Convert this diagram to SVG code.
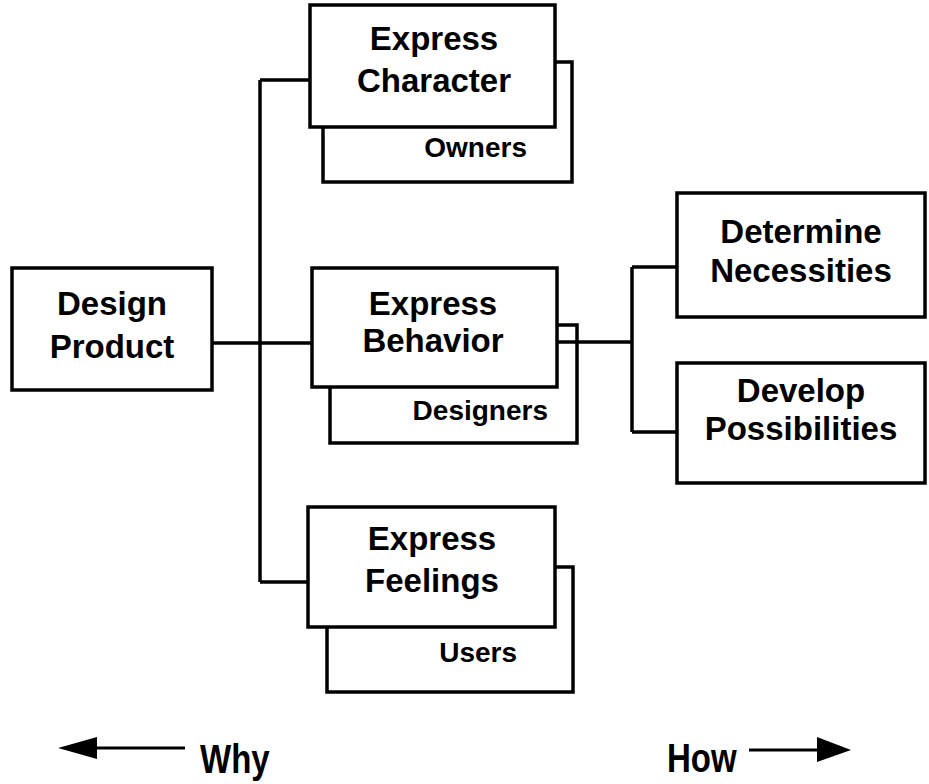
<svg xmlns="http://www.w3.org/2000/svg" width="929" height="784" viewBox="0 0 929 784">
<style>
  .box { fill: #fff; stroke: #000; stroke-width: 3.5; }
  .t { font-family: "Liberation Sans", Arial, sans-serif; font-weight: bold; font-size: 33px; fill: #000; text-anchor: middle; }
  .s { font-family: "Liberation Sans", Arial, sans-serif; font-weight: bold; font-size: 28px; fill: #000; text-anchor: end; }
  .dir { font-family: "Liberation Sans", Arial, sans-serif; font-weight: bold; font-size: 33px; fill: #000; }
  .c { fill: none; stroke: #000; stroke-width: 3.5; }
</style>
<rect width="929" height="784" fill="#fff"/>
<g id="design-product">
  <rect class="box" x="12" y="268" width="200" height="122"/>
  <text class="t" x="112" y="315">Design</text>
  <text class="t" x="112" y="358">Product</text>
</g>
<g id="express-character">
  <rect class="box" x="323" y="62" width="249" height="120"/>
  <text class="s" x="527" y="157">Owners</text>
  <rect class="box" x="310" y="5" width="245" height="122"/>
  <text class="t" x="434" y="50">Express</text>
  <text class="t" x="434" y="92">Character</text>
</g>
<g id="express-behavior">
  <rect class="box" x="330" y="325" width="247" height="118"/>
  <text class="s" x="548" y="420">Designers</text>
  <rect class="box" x="312" y="268" width="245" height="119"/>
  <text class="t" x="433" y="315">Express</text>
  <text class="t" x="433" y="352">Behavior</text>
</g>
<g id="express-feelings">
  <rect class="box" x="327" y="567" width="246" height="125"/>
  <text class="s" x="517" y="662">Users</text>
  <rect class="box" x="308" y="507" width="247" height="120"/>
  <text class="t" x="432" y="550">Express</text>
  <text class="t" x="432" y="592">Feelings</text>
</g>
<g id="determine-necessities">
  <rect class="box" x="677" y="193" width="248" height="124"/>
  <text class="t" x="801" y="243">Determine</text>
  <text class="t" x="801" y="282">Necessities</text>
</g>
<g id="develop-possibilities">
  <rect class="box" x="677" y="363" width="248" height="120"/>
  <text class="t" x="801" y="402">Develop</text>
  <text class="t" x="801" y="440">Possibilities</text>
</g>
<g id="connectors">
  <path class="c" d="M212 343 H312"/>
  <path class="c" d="M260 80 V582"/>
  <path class="c" d="M260 80 H310"/>
  <path class="c" d="M260 582 H308"/>
  <path class="c" d="M557 342 H632"/>
  <path class="c" d="M632 267 V432"/>
  <path class="c" d="M632 267 H677"/>
  <path class="c" d="M632 432 H677"/>
</g>
<g id="why">
  <path d="M97 748 H185" stroke="#000" stroke-width="3"/>
  <polygon points="58,748 97,737 97,759" fill="#000"/>
  <text class="dir" transform="translate(200,773) scale(1,1.25)">Why</text>
</g>
<g id="how">
  <path d="M749 750 H817" stroke="#000" stroke-width="3"/>
  <polygon points="851,750 817,737 817,762" fill="#000"/>
  <text class="dir" transform="translate(667,772) scale(1,1.25)">How</text>
</g>
</svg>
